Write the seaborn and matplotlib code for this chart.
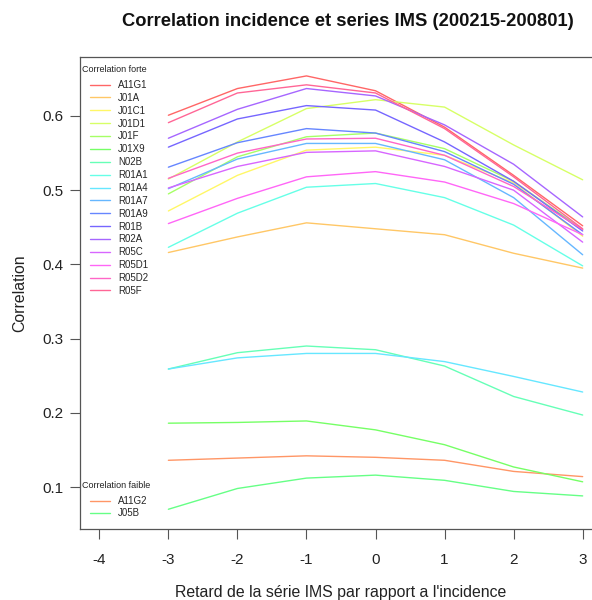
import colorsys
import numpy as np
import pandas as pd
import seaborn as sns
import matplotlib
matplotlib.use("Agg")
import matplotlib.pyplot as plt
from matplotlib.lines import Line2D

# Retard (lag) en mois
lags = [-3, -2, -1, 0, 1, 2, 3]

# Correlation forte
A11G1 = [0.601, 0.637, 0.654, 0.634, 0.585, 0.520, 0.452]
J01A = [0.416, 0.437, 0.456, 0.448, 0.440, 0.415, 0.395]
J01C1 = [0.472, 0.520, 0.554, 0.558, 0.547, 0.510, 0.438]
J01D1 = [0.515, 0.565, 0.610, 0.622, 0.612, 0.561, 0.514]
J01F = [0.495, 0.545, 0.572, 0.577, 0.556, 0.512, 0.447]
J01X9 = [0.186, 0.187, 0.189, 0.177, 0.157, 0.127, 0.107]
N02B = [0.259, 0.281, 0.290, 0.285, 0.263, 0.222, 0.197]
R01A1 = [0.423, 0.469, 0.504, 0.509, 0.490, 0.453, 0.398]
R01A4 = [0.259, 0.274, 0.280, 0.280, 0.269, 0.249, 0.228]
R01A7 = [0.502, 0.542, 0.563, 0.563, 0.541, 0.490, 0.413]
R01A9 = [0.531, 0.564, 0.583, 0.577, 0.552, 0.508, 0.440]
R01B = [0.558, 0.596, 0.614, 0.608, 0.565, 0.512, 0.445]
R02A = [0.570, 0.609, 0.637, 0.627, 0.588, 0.535, 0.464]
R05C = [0.503, 0.532, 0.551, 0.553, 0.532, 0.500, 0.430]
R05D1 = [0.455, 0.489, 0.518, 0.525, 0.511, 0.482, 0.440]
R05D2 = [0.516, 0.550, 0.569, 0.570, 0.547, 0.505, 0.447]
R05F = [0.591, 0.631, 0.642, 0.631, 0.583, 0.518, 0.448]

# Correlation faible
A11G2 = [0.136, 0.139, 0.142, 0.140, 0.136, 0.121, 0.114]
J05B = [0.070, 0.098, 0.112, 0.116, 0.109, 0.094, 0.088]

forte = {"A11G1": A11G1, "J01A": J01A, "J01C1": J01C1, "J01D1": J01D1,
         "J01F": J01F, "J01X9": J01X9, "N02B": N02B, "R01A1": R01A1,
         "R01A4": R01A4, "R01A7": R01A7, "R01A9": R01A9, "R01B": R01B,
         "R02A": R02A, "R05C": R05C, "R05D1": R05D1, "R05D2": R05D2,
         "R05F": R05F}
faible = {"A11G2": A11G2, "J05B": J05B}

toutes = sorted(list(forte) + list(faible))
# palette arc-en-ciel (comme rainbow() de R), un peu pastel
palette = {s: colorsys.hsv_to_rgb(i / len(toutes), 0.6, 1.0) for i, s in enumerate(toutes)}

rows = []
for nom, vals in {**forte, **faible}.items():
    for l, v in zip(lags, vals):
        rows.append({"retard": l, "corr": v, "serie": nom})
df = pd.DataFrame(rows)

sns.set_style("ticks")
plt.rcParams["font.family"] = ["Liberation Sans", "DejaVu Sans"]

fig = plt.figure(figsize=(5.92, 6.0), dpi=100)
W, H = 592, 600
ax = fig.add_axes([80 / W, 1 - 529 / H, 522 / W, 472 / H])

sns.lineplot(data=df, x="retard", y="corr", hue="serie", palette=palette,
             hue_order=toutes, estimator=None, sort=False, linewidth=1.0,
             legend=False, ax=ax)

ax.set_xlim(-4.28, 3.28)
ax.set_ylim(0.0434, 0.6795)
ax.set_xticks([-4, -3, -2, -1, 0, 1, 2, 3])
ax.set_xticklabels(["-4", "-3", "-2", "-1", "0", "1", "2", "3"])
ax.set_yticks([0.1, 0.2, 0.3, 0.4, 0.5, 0.6])
ax.set_yticklabels(["0.1", "0.2", "0.3", "0.4", "0.5", "0.6"])
ax.tick_params(direction="out", length=7, width=0.8, color="#555555",
               labelsize=11, pad=5, labelcolor="#222222")
ax.tick_params(axis="x", pad=10)
for sp in ax.spines.values():
    sp.set_color("#555555")
    sp.set_linewidth(0.9)

ax.set_xlabel("Retard de la série IMS par rapport a l'incidence", fontsize=11.4, color="#222222")
ax.set_ylabel("Correlation", fontsize=11.4, color="#222222")
ax.xaxis.set_label_coords(0.5, -0.119)
ax.yaxis.set_label_coords(-0.102, 0.5)
fig.text(348 / W, 1 - 22 / H, "Correlation incidence et series IMS (200215-200801)",
         fontsize=13.2, fontweight="bold", ha="center", va="center", color="#111111")

# legendes
h1 = [Line2D([], [], color=palette[s], lw=1.0) for s in forte]
leg1 = ax.legend(h1, list(forte), loc="upper left", bbox_to_anchor=(90 / W, 1 - 80 / H),
                 bbox_transform=fig.transFigure, frameon=False, fontsize=7,
                 borderpad=0, borderaxespad=0, handlelength=2.05, handletextpad=0.85,
                 labelspacing=0.295)
ax.add_artist(leg1)
h2 = [Line2D([], [], color=palette[s], lw=1.0) for s in faible]
ax.legend(h2, list(faible), loc="upper left", bbox_to_anchor=(90 / W, 1 - 496 / H),
          bbox_transform=fig.transFigure, frameon=False, fontsize=7,
          borderpad=0, borderaxespad=0, handlelength=2.05, handletextpad=0.85,
          labelspacing=0.25)
fig.text(82 / W, 1 - 69 / H, "Correlation forte", fontsize=6.5, va="center", color="#222222")
fig.text(82 / W, 1 - 486 / H, "Correlation faible", fontsize=6.5, va="center", color="#222222")

fig.savefig("out.png", dpi=100)
